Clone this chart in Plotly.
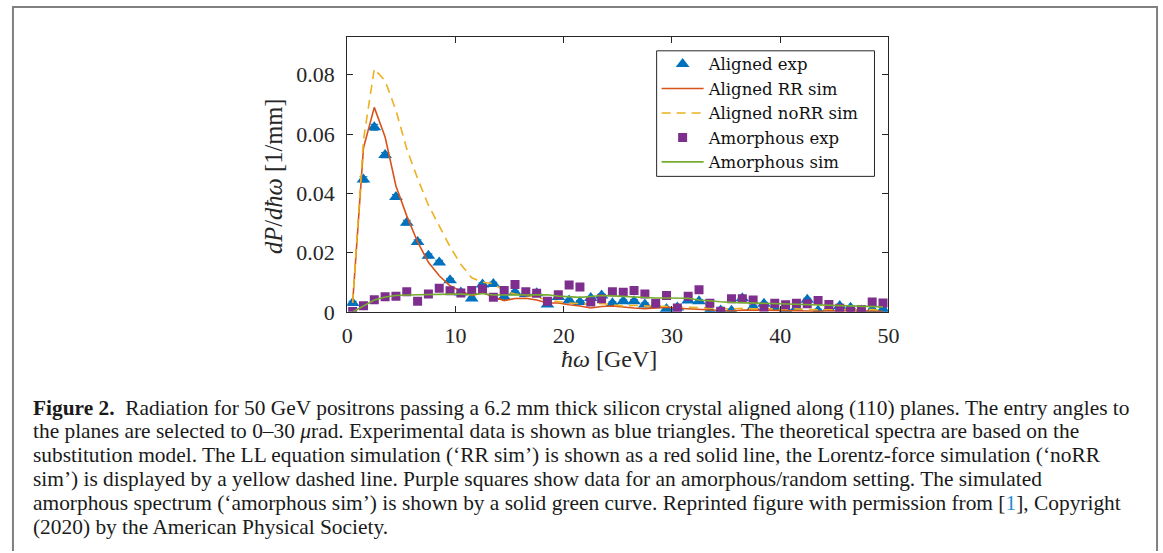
import plotly.graph_objects as go

# reference picture size (positions below are given in these pixels)
REF_W, REF_H = 1163, 553
# the page is photographed with a small extra border that is scaled away,
# so the figure is made slightly larger to fill the photographed area
FIG_W, FIG_H = 1174, 564

energy = [i + 0.5 for i in range(50)]

aligned_exp = [0.0030, 0.0447, 0.0623, 0.0529, 0.0388, 0.0301, 0.0236, 0.0189, 0.0167, 0.0107,
               0.0065, 0.0045, 0.0092, 0.0094, 0.0050, 0.0066, 0.0060, 0.0063, 0.0025, 0.0050,
               0.0038, 0.0033, 0.0047, 0.0055, 0.0029, 0.0036, 0.0036, 0.0025, 0.0022, 0.0010,
               0.0015, 0.0038, 0.0036, 0.0004, 0.0005, 0.0004, 0.0046, 0.0016, 0.0027, 0.0014,
               0.0010, 0.0013, 0.0041, 0.0004, 0.0011, 0.0020, 0.0014, 0.0005, 0.0007, 0.0008]
aligned_err = [0.0006, 0.0009, 0.0010, 0.0009, 0.0008, 0.0008, 0.0007, 0.0007, 0.0007, 0.0006,
               0.0005, 0.0005, 0.0006, 0.0006, 0.0005, 0.0005, 0.0005, 0.0005, 0.0005, 0.0005,
               0.0005, 0.0005, 0.0005, 0.0005, 0.0005, 0.0005, 0.0005, 0.0005, 0.0005, 0.0005,
               0.0005, 0.0005, 0.0005, 0.0005, 0.0005, 0.0005, 0.0005, 0.0005, 0.0005, 0.0005,
               0.0005, 0.0005, 0.0005, 0.0005, 0.0005, 0.0005, 0.0005, 0.0005, 0.0005, 0.0005]

aligned_rr_sim = [0.0030, 0.0553, 0.0690, 0.0590, 0.0425, 0.0324, 0.0236, 0.0167, 0.0122, 0.0088,
                  0.0070, 0.0055, 0.0065, 0.0050, 0.0038, 0.0045, 0.0046, 0.0040, 0.0030, 0.0030,
                  0.0024, 0.0020, 0.0013, 0.0018, 0.0020, 0.0016, 0.0013, 0.0011, 0.0013, 0.0016,
                  0.0012, 0.0010, 0.0009, 0.0008, 0.0006, 0.0003, 0.0006, 0.0007, 0.0006, 0.0005,
                  0.0004, 0.0005, 0.0004, 0.0002, 0.0004, 0.0003, 0.0002, 0.0003, 0.0004, 0.0001]

aligned_norr_sim = [0.0030, 0.0580, 0.0820, 0.0780, 0.0680, 0.0550, 0.0450, 0.0360, 0.0290, 0.0220,
                    0.0160, 0.0115, 0.0100, 0.0095, 0.0070, 0.0060, 0.0055, 0.0050, 0.0040, 0.0035,
                    0.0030, 0.0028, 0.0025, 0.0028, 0.0025, 0.0020, 0.0022, 0.0020, 0.0018, 0.0019,
                    0.0017, 0.0015, 0.0014, 0.0012, 0.0011, 0.0010, 0.0012, 0.0010, 0.0011, 0.0010,
                    0.0009, 0.0010, 0.0008, 0.0007, 0.0009, 0.0008, 0.0006, 0.0007, 0.0008, 0.0005]

amorphous_exp = [0.0001, 0.0021, 0.0041, 0.0051, 0.0053, 0.0068, 0.0036, 0.0060, 0.0080, 0.0071,
                 0.0064, 0.0072, 0.0077, 0.0049, 0.0072, 0.0092, 0.0068, 0.0063, 0.0036, 0.0058,
                 0.0091, 0.0084, 0.0033, 0.0044, 0.0068, 0.0066, 0.0072, 0.0060, 0.0029, 0.0055,
                 0.0013, 0.0053, 0.0075, 0.0029, 0.0002, 0.0044, 0.0044, 0.0040, 0.0016, 0.0029,
                 0.0024, 0.0029, 0.0027, 0.0038, 0.0025, 0.0012, 0.0004, 0.0008, 0.0033, 0.0030]
amorphous_err = [0.0004] * 50

amorphous_sim = [0.0000, 0.0020, 0.0040, 0.0050, 0.0055, 0.0057, 0.0058, 0.0060, 0.0060, 0.0060,
                 0.0060, 0.0058, 0.0062, 0.0057, 0.0057, 0.0057, 0.0057, 0.0058, 0.0058, 0.0053,
                 0.0050, 0.0049, 0.0052, 0.0055, 0.0054, 0.0052, 0.0050, 0.0048, 0.0047, 0.0047,
                 0.0047, 0.0046, 0.0040, 0.0036, 0.0034, 0.0032, 0.0031, 0.0030, 0.0030, 0.0029,
                 0.0028, 0.0027, 0.0026, 0.0025, 0.0023, 0.0021, 0.0020, 0.0019, 0.0018, 0.0017]

x_ticks = [0, 10, 20, 30, 40, 50]
y_ticks = [0, 0.02, 0.04, 0.06, 0.08]
y_tick_labels = ["0", "0.02", "0.04", "0.06", "0.08"]

caption_lines = [
    "<b>Figure 2.</b>  Radiation for 50 GeV positrons passing a 6.2 mm thick silicon crystal aligned along (110) planes. The entry angles to",
    "the planes are selected to 0–30 <i>μ</i>rad. Experimental data is shown as blue triangles. The theoretical spectra are based on the",
    "substitution model. The LL equation simulation (‘RR sim’) is shown as a red solid line, the Lorentz-force simulation (‘noRR",
    "sim’) is displayed by a yellow dashed line. Purple squares show data for an amorphous/random setting. The simulated",
    "amorphous spectrum (‘amorphous sim’) is shown by a solid green curve. Reprinted figure with permission from [<span style='color:#1f8fd0'>1</span>], Copyright",
    "(2020) by the American Physical Society.",
]

BLUE = "#0072BD"
RED = "#D95319"
YELLOW = "#EDB120"
PURPLE = "#7E2F8E"
GREEN = "#77AC30"
SERIF = "Liberation Serif"
LEG_FONT = "DejaVu Serif"


def px(x):
    return x / REF_W


def py(y):
    return 1 - y / REF_H


fig = go.Figure()
fig.add_trace(go.Scatter(
    x=energy, y=aligned_exp, mode="markers", name="Aligned exp",
    marker=dict(symbol="triangle-up", size=12, color=BLUE),
    error_y=dict(type="data", array=aligned_err, color=BLUE, thickness=1, width=4)))
fig.add_trace(go.Scatter(
    x=energy, y=aligned_rr_sim, mode="lines", name="Aligned RR sim",
    line=dict(color=RED, width=1.6)))
fig.add_trace(go.Scatter(
    x=energy, y=aligned_norr_sim, mode="lines", name="Aligned noRR sim",
    line=dict(color=YELLOW, width=1.6, dash="9px,6px")))
fig.add_trace(go.Scatter(
    x=energy, y=amorphous_exp, mode="markers", name="Amorphous exp",
    marker=dict(symbol="square", size=9, color=PURPLE),
    error_y=dict(type="data", array=amorphous_err, color=PURPLE, thickness=1, width=3)))
fig.add_trace(go.Scatter(
    x=energy, y=amorphous_sim, mode="lines", name="Amorphous sim",
    line=dict(color=GREEN, width=1.6)))

axis_common = dict(showline=True, linecolor="#262626", linewidth=1, mirror="ticks",
                   ticks="inside", ticklen=6, tickcolor="#262626", showgrid=False,
                   zeroline=False, tickfont=dict(family=SERIF, size=22, color="#262626"))

fig.update_layout(
    width=FIG_W, height=FIG_H, autosize=False,
    margin=dict(l=0, r=0, t=0, b=0),
    paper_bgcolor="white", plot_bgcolor="white",
    showlegend=True,
    legend=dict(x=px(654), y=py(47), xanchor="left", yanchor="top",
                bgcolor="rgba(0,0,0,0)", borderwidth=0,
                font=dict(family=LEG_FONT, size=16.5, color="#111111"),
                tracegroupgap=0, itemwidth=42),
    xaxis=dict(domain=[px(343), px(887)], range=[0, 50], tickvals=x_ticks,
               ticklabelstandoff=4, **axis_common),
    yaxis=dict(domain=[py(313), py(37)], range=[0, 0.0928], tickvals=y_ticks,
               ticktext=y_tick_labels, ticklabelstandoff=7, **axis_common),
)

# legend frame
fig.add_shape(type="rect", xref="paper", yref="paper",
              x0=px(654), x1=px(873), y0=py(177), y1=py(51),
              line=dict(color="#262626", width=1), fillcolor="white", layer="below")

# x and y axis titles
fig.add_annotation(xref="paper", yref="paper", x=px(606), y=py(360),
                   xanchor="center", yanchor="middle",
                   text="<i>ħω</i> [GeV]", showarrow=False,
                   font=dict(family=SERIF, size=24, color="#262626"))
fig.add_annotation(xref="paper", yref="paper", x=px(269), y=py(177),
                   xanchor="center", yanchor="middle",
                   text="<i>dP</i>/<i>dħω</i> [1/mm]", showarrow=False, textangle=-90,
                   font=dict(family=SERIF, size=24.5, color="#262626"))

# caption
for i, line in enumerate(caption_lines):
    fig.add_annotation(xref="paper", yref="paper", x=px(25), y=py(409 + 24 * i),
                       xanchor="left", yanchor="middle", text=line, showarrow=False,
                       align="left", font=dict(family=SERIF, size=21.4, color="#1a1a1a"))

# outer frame (open at the bottom, which lies outside the picture)
fl, fr, ft = px(7), px(1157), py(7)
fig.add_shape(type="path", xref="paper", yref="paper",
              path=f"M {fl} 0 L {fl} {ft} L {fr} {ft} L {fr} 0",
              line=dict(color="#808080", width=2), layer="below")

fig.write_html("out.html",
               config={"responsive": False, "displayModeBar": False},
               post_script="document.body.style.margin='0';")
